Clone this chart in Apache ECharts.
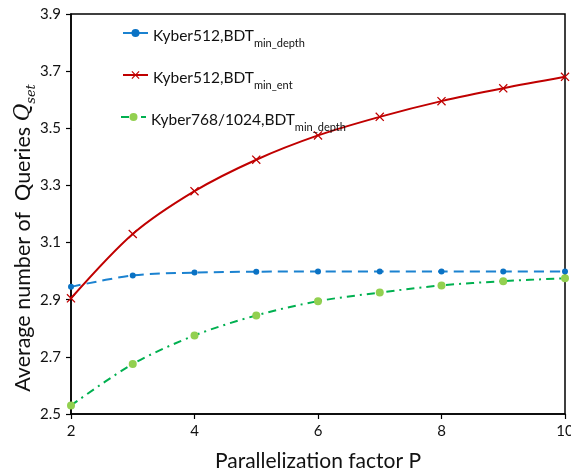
<!DOCTYPE html>
<html><head><meta charset="utf-8">
<script src="https://cdn.jsdelivr.net/npm/echarts@6/dist/echarts.min.js"></script>
<style>html,body{margin:0;padding:0;background:#fff}#c{width:571px;height:470px}</style>
</head><body><div id="c"></div>
<script>
const P = [2, 3, 4, 5, 6, 7, 8, 9, 10];
const kyber512Depth = [2.945, 2.985, 2.995, 2.998, 2.999, 2.999, 2.999, 2.999, 2.999];
const kyber512Ent = [2.905, 3.13, 3.28, 3.39, 3.475, 3.54, 3.595, 3.64, 3.68];
const kyber768Depth = [2.53, 2.675, 2.775, 2.845, 2.895, 2.925, 2.95, 2.965, 2.975];
const names = ['Kyber512,BDT_min_depth', 'Kyber512,BDT_min_ent', 'Kyber768/1024,BDT_min_depth'];
const legendMain = ['Kyber512,BDT', 'Kyber512,BDT', 'Kyber768/1024,BDT'];
const legendSub = ['min_depth', 'min_ent', 'min_depth'];

const pairs = v => P.map((p, i) => [p, v[i]]);
const FONT = 'Lato';
const rich = {
  a: {fontSize: 15.5, fontFamily: FONT, color: '#111', lineHeight: 22, verticalAlign: 'bottom'},
  b: {fontSize: 11, fontFamily: FONT, color: '#111', lineHeight: 22, verticalAlign: 'bottom', padding: [0, 0, -5, 0]}
};
const crossPath = 'path://M0,1L1,0L5,4L9,0L10,1L6,5L10,9L9,10L5,6L1,10L0,9L4,5Z';
const legendTops = [23, 65, 107];
const legendLefts = [117, 117, 115];

const chart = echarts.init(document.getElementById('c'));
chart.setOption({
  animation: false,
  grid: {left: 71, right: 6, top: 14, bottom: 56, show: true, borderColor: '#000', borderWidth: 1.5,
    backgroundColor: 'transparent', outerBoundsMode: 'none', containLabel: false},
  legend: names.map((n, i) => ({
    data: [n], left: legendLefts[i], top: legendTops[i], itemWidth: 25, itemHeight: 10,
    textStyle: {rich: rich},
    formatter: () => '{a|' + legendMain[i] + '}{b|' + legendSub[i] + '}'
  })),
  xAxis: {
    type: 'value', min: 2, max: 10, interval: 2,
    name: 'Parallelization factor P', nameLocation: 'middle', nameGap: 37, nameMoveOverlap: false,
    nameTextStyle: {fontSize: 21, fontFamily: FONT, color: '#111'},
    axisLine: {lineStyle: {color: '#000', width: 1.5}},
    axisTick: {show: true, length: 5, lineStyle: {color: '#000', width: 1.2}},
    axisLabel: {fontSize: 15, fontFamily: FONT, color: '#111', margin: 10},
    splitLine: {show: false}
  },
  yAxis: {
    type: 'value', min: 2.5, max: 3.9, interval: 0.2,
    name: '{n|Average number of  Queries }{q|Q}{s|set}', nameLocation: 'middle', nameGap: 37, nameMoveOverlap: false,
    nameTextStyle: {padding: [0, 48, 0, 0], rich: {
      n: {fontSize: 21.5, fontFamily: FONT, color: '#111', lineHeight: 26, verticalAlign: 'bottom'},
      q: {fontSize: 21.5, fontFamily: 'DejaVu Serif', fontStyle: 'italic', color: '#111', lineHeight: 26, verticalAlign: 'bottom'},
      s: {fontSize: 13, fontFamily: 'DejaVu Serif', fontStyle: 'italic', color: '#111', lineHeight: 26, verticalAlign: 'bottom', padding: [0, 0, -4, 0]}
    }},
    axisLine: {show: true, lineStyle: {color: '#000', width: 1.5}},
    axisTick: {show: true, length: 5, lineStyle: {color: '#000', width: 1.2}},
    axisLabel: {fontSize: 15, fontFamily: FONT, color: '#111', margin: 10, formatter: v => v.toFixed(1)},
    splitLine: {show: false}
  },
  series: [
    {name: names[0], type: 'line', smooth: 0.3, data: pairs(kyber512Depth),
      symbol: 'circle', symbolSize: 6, itemStyle: {color: '#0A72C4'},
      lineStyle: {color: '#1B82D0', width: 2, type: [10, 6]}},
    {name: names[1], type: 'line', smooth: 0.3, data: pairs(kyber512Ent),
      symbol: crossPath, symbolSize: 9, itemStyle: {color: '#C00000'},
      lineStyle: {color: '#C00000', width: 2}},
    {name: names[2], type: 'line', smooth: 0.3, data: pairs(kyber768Depth),
      symbol: 'circle', symbolSize: 8, itemStyle: {color: '#92D050'},
      lineStyle: {color: '#00B050', width: 2, type: [8, 5, 2, 5]}}
  ]
});
</script></body></html>
